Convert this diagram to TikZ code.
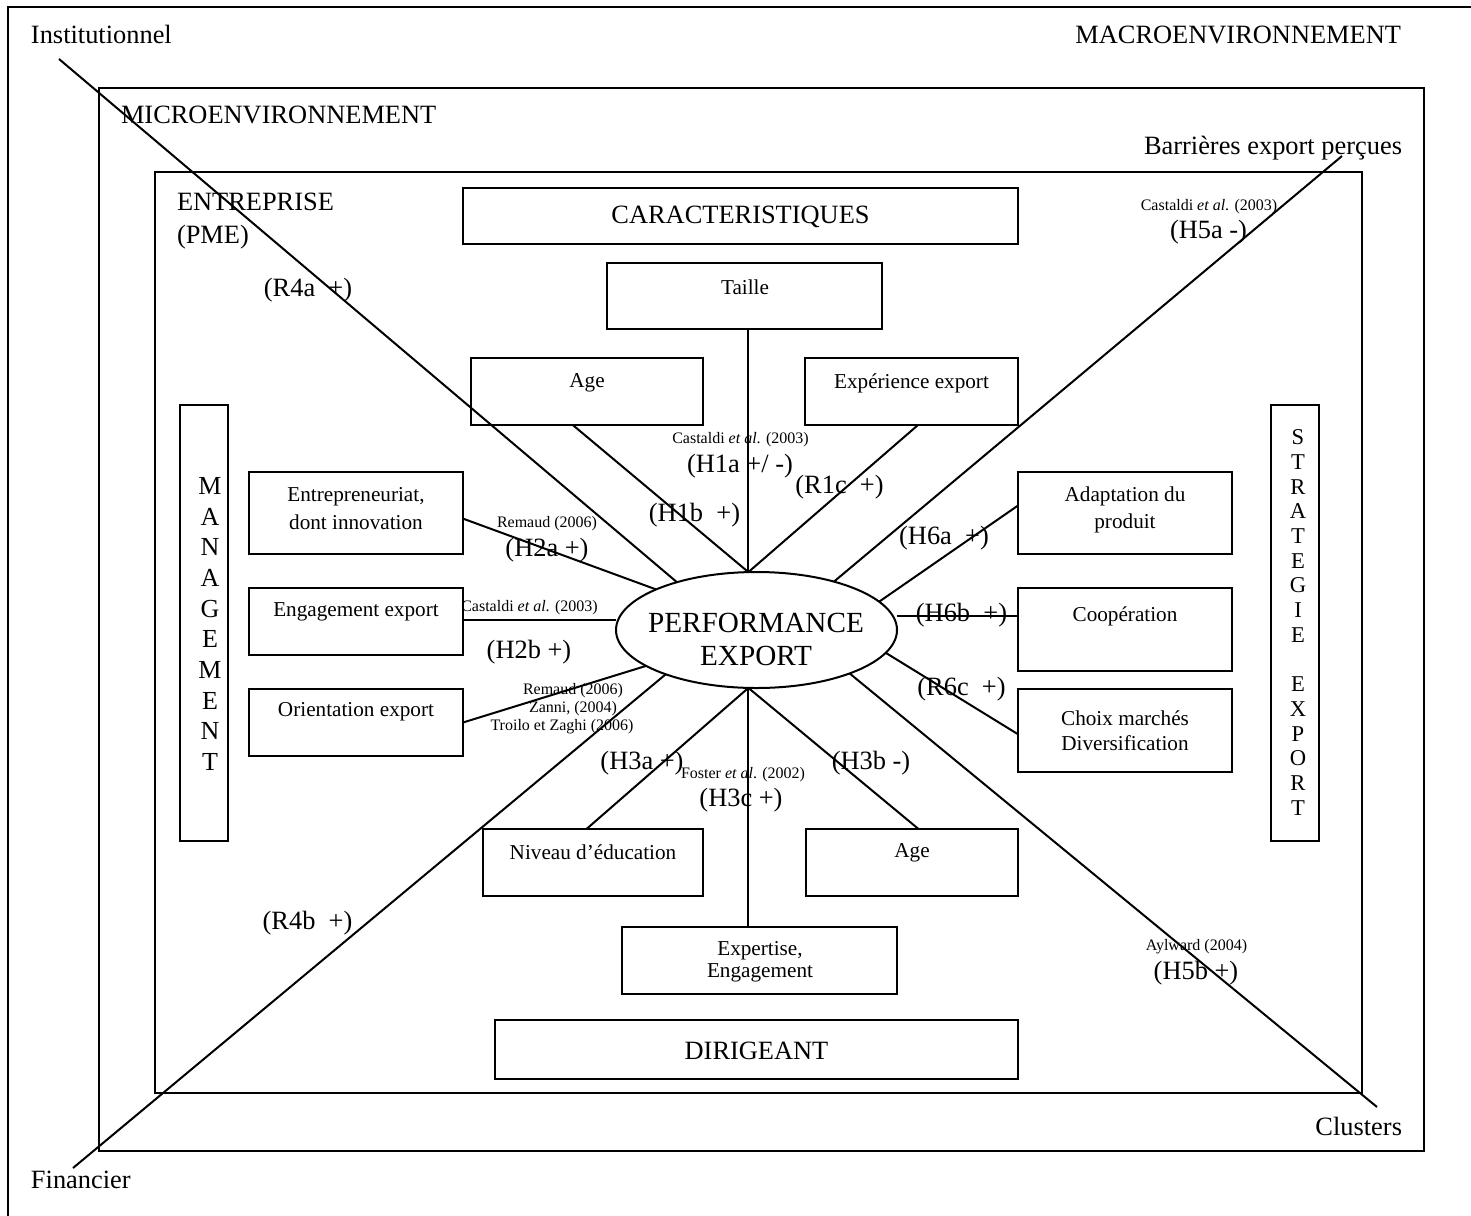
\documentclass[tikz,border=0pt]{standalone}
\usepackage{fontspec}
\usetikzlibrary{shapes.geometric}
\setmainfont{Liberation Serif}
\newcommand\fbig{\fontsize{13.2}{15}\selectfont}
\newcommand\fperf{\fontsize{14.6}{16.5}\selectfont}
\newcommand\fbx{\fontsize{10.6}{13}\selectfont}
\newcommand\fcit{\fontsize{8}{9}\selectfont}
\begin{document}
\begin{tikzpicture}[x=0.5pt,y=-0.5pt, line width=1pt,
  box/.style={draw, rectangle, inner sep=0pt, outer sep=0pt},
  lbl/.style={inner sep=0pt, font=\fbig},
  cit/.style={inner sep=0pt, font=\fcit},
  btx/.style={inner sep=0pt, font=\fbx, align=center},
]
\clip (0,0) rectangle (1471,1215);
% frames
\draw (8,7) rectangle (1490,1230);
\draw (99,88) rectangle (1424,1151);
\draw (155,172) rectangle (1362,1093);

% frame titles
\node[lbl, anchor=base west] (tinst) at (30,43) {Institutionnel};
\node[lbl, anchor=base east] (tmacro) at (1402,43) {MACROENVIRONNEMENT};
\node[lbl, anchor=base west] (tmicro) at (120,123) {MICROENVIRONNEMENT};
\node[lbl, anchor=base east] (tbarr) at (1403,154) {Barrières export perçues};
\node[lbl, anchor=base west] (tent) at (176,210) {ENTREPRISE};
\node[lbl, anchor=base west] (tpme) at (176,243) {(PME)};
\node[lbl, anchor=base west] (tfin) at (30,1188) {Financier};
\node[lbl, anchor=base east] (tclus) at (1403,1135) {Clusters};

% boxes
\node[box, minimum width=277.5pt, minimum height=28pt] (carac) at (740.5,216) {};
\node[lbl] (tcarac) at (740.5,217) {CARACTERISTIQUES};
\node[box, minimum width=137.75pt, minimum height=33pt] (taille) at (744.25,296) {};
\node[btx] (ttaille) at (745,287) {Taille};
\node[box, minimum width=116pt, minimum height=33.5pt] (age1) at (587,391.5) {};
\node[btx] (tage1) at (587,383) {Age};
\node[box, minimum width=106.5pt, minimum height=33.5pt] (exp) at (911.5,391.5) {};
\node[btx] (texp) at (911.5,383) {Expérience export};

\node[box, minimum width=107pt, minimum height=41pt] (entr) at (356,513) {};
\node[btx, font={\fontsize{10.6}{14}\selectfont}] (tentr) at (356,509) {Entrepreneuriat,\\dont innovation};
\node[box, minimum width=107pt, minimum height=33.5pt] (eng) at (356,621.5) {};
\node[btx] (teng) at (356,612) {Engagement export};
\node[box, minimum width=107pt, minimum height=33.5pt] (orient) at (356,722.5) {};
\node[btx] (torient) at (356,712) {Orientation export};

\node[box, minimum width=107pt, minimum height=41pt] (adapt) at (1125,513) {};
\node[btx, font={\fontsize{10.6}{13.5}\selectfont}] (tadapt) at (1125,509.5) {Adaptation du\\produit};
\node[box, minimum width=107pt, minimum height=41.5pt] (coop) at (1125,629.5) {};
\node[btx] (tcoop) at (1125,616) {Coopération};
\node[box, minimum width=107pt, minimum height=41.5pt] (choix) at (1125,730.5) {};
\node[btx, font={\fontsize{10.6}{12.5}\selectfont}] (tchoix) at (1125,730.5) {Choix marchés\\Diversification};

\node[box, minimum width=110pt, minimum height=33.5pt] (niveau) at (593,862.5) {};
\node[btx] (tniveau) at (593,852) {Niveau d’éducation};
\node[box, minimum width=106pt, minimum height=33.5pt] (age2) at (912,862.5) {};
\node[btx] (tage2) at (912,853) {Age};
\node[box, minimum width=137.5pt, minimum height=33.5pt] (expert) at (759.5,960.5) {};
\node[btx, font={\fontsize{10.6}{11}\selectfont}] (texpert) at (760,962) {Expertise,\\Engagement};
\node[box, minimum width=261.5pt, minimum height=29.5pt] (dirig) at (756.5,1049.5) {};
\node[lbl] (tdirig) at (756.5,1051) {DIRIGEANT};

\node[box, minimum width=24pt, minimum height=218pt] (manag) at (204,623) {};
\node[inner sep=0pt, align=center, font={\fontsize{13}{15.35}\selectfont}] (tmanag) at (210,624)
  {M\\A\\N\\A\\G\\E\\M\\E\\N\\T};
\node[box, minimum width=24pt, minimum height=218pt] (strat) at (1295,623) {};
\node[inner sep=0pt, align=center, font={\fontsize{11.3}{12.35}\selectfont}] (tstrat) at (1298,622.5)
  {S\\T\\R\\A\\T\\E\\G\\I\\E\\\mbox{}\\E\\X\\P\\O\\R\\T};

% central ellipse
\node[draw, ellipse, minimum width=140.5pt, minimum height=58pt, inner sep=0pt, outer sep=0pt] (perf) at (756.5,630) {};
\node[inner sep=0pt, align=center, font=\fperf] (tperf) at (756,639.5) {PERFORMANCE\\EXPORT};

\coordinate (ptop) at (perf.98.3);
\coordinate (pbot) at (perf.262.9);

% connectors to the ellipse
\draw (taille.south -| ptop) -- (ptop);
\draw (age1.247.3) -- (ptop);
\draw (exp.281) -- (ptop);
\draw (entr.-3.7) -- (perf.158.8);
\draw (eng.1.9) -- (eng.1.9 -| perf.west);
\draw (orient.east) -- (perf.198.4);
\draw (adapt.176.3) -- (perf.13.2);
\draw (coop.173.9) -- (coop.173.9 -| perf.east);
\draw (choix.182.4) -- (perf.350.7);
\draw (niveau.101.8) -- (pbot);
\draw (age2.79.8) -- (pbot);
\draw (pbot) -- (pbot |- expert.north);

% environment diagonals
\coordinate (inst) at (59,59);
\coordinate (barr) at (1342,156);
\coordinate (fin) at (73,1168);
\coordinate (clus) at (1377,1107);
\draw (inst) -- (perf.149.2);
\draw (barr) -- (perf.32.5);
\draw (fin) -- (perf.206.4);
\draw (clus) -- (perf.335.9);

% hypothesis labels
\node[lbl] (r4a) at (308,290) {(R4a~~+)};
\node[lbl] (r4b) at (307.5,923) {(R4b~~+)};
\node[cit] (c1a) at (740.5,440) {Castaldi \textit{et al}. (2003)};
\node[lbl] (h1a) at (740,466) {(H1a +/ -)};
\node[lbl] (h1b) at (694.5,515) {(H1b~~+)};
\node[lbl] (r1c) at (839.5,487) {(R1c~~+)};
\node[cit] (c2a) at (547,524) {Remaud (2006)};
\node[lbl] (h2a) at (547,550) {(H2a +)};
\node[cit] (c2b) at (529.5,608) {Castaldi \textit{et al}. (2003)};
\node[lbl] (h2b) at (529,652) {(H2b +)};
\node[cit] (c2c1) at (573,691) {Remaud (2006)};
\node[cit] (c2c2) at (573,709) {Zanni, (2004)};
\node[cit] (c2c3) at (562,727) {Troilo et Zaghi (2006)};
\node[lbl] (h6a) at (944,538) {(H6a~~+)};
\node[lbl] (h6b) at (961.5,615) {(H6b~~+)};
\node[lbl] (r6c) at (961.5,689) {(R6c~~+)};
\node[lbl] (h3a) at (642,763) {(H3a +)};
\node[lbl] (h3b) at (871,763) {(H3b -)};
\node[cit] (c3c) at (743,775) {Foster \textit{et al}. (2002)};
\node[lbl] (h3c) at (741,800) {(H3c +)};
\node[cit] (c5a) at (1209,207) {Castaldi \textit{et al}. (2003)};
\node[lbl] (h5a) at (1208.5,232) {(H5a -)};
\node[cit] (c5b) at (1196.5,947) {Aylward (2004)};
\node[lbl] (h5b) at (1196,973) {(H5b +)};
\end{tikzpicture}
\end{document}
